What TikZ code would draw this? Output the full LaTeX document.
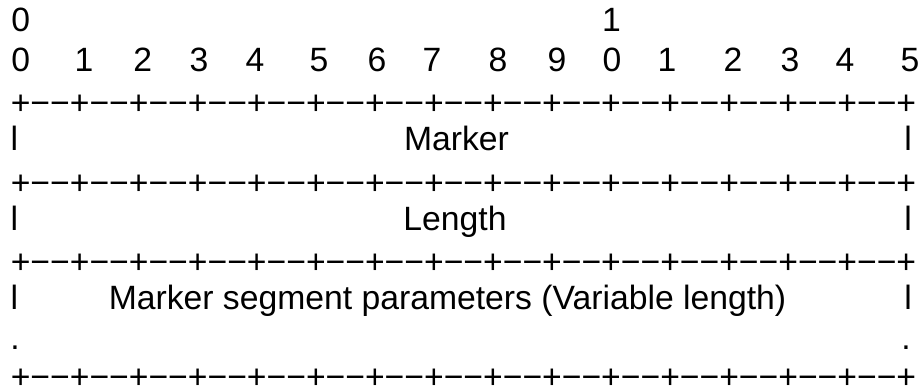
\documentclass[tikz,border=0pt]{standalone}
\usepackage{fontspec}
\setmainfont{Liberation Sans}
\newcommand\seprow{+−−+−−+−−+−−+−−+−−+−−+−−+−−+−−+−−+−−+−−+−−+−−+}
\begin{document}
\begin{tikzpicture}[x=1bp,y=-1bp,
  txt/.style={inner sep=0pt, outer sep=0pt, anchor=base, font=\fontsize{33.7bp}{40bp}\selectfont},
  seprowstyle/.style={txt, anchor=base west}]
\useasboundingbox (0,0) rectangle (922,391);
% bit numbers
\node[txt] (top0) at (20.7,31.5) {0};
\node[txt] (top1) at (611.5,31.5) {1};
\foreach \xx/\dd [count=\i] in {20.7/0,84/1,142.7/2,199/3,255/4,319/5,377/6,432/7,498/8,557/9,612/0,667/1,733/2,790/3,845/4,910/5}
  \node[txt] (d\i) at (\xx,71) {\dd};
% separator rows
\node[seprowstyle] (s1) at (10.8,114.5) {\seprow};
\node[seprowstyle] (s2) at (10.8,194.1) {\seprow};
\node[seprowstyle] (s3) at (10.8,273.7) {\seprow};
\node[seprowstyle] (s4) at (10.8,388.6) {\seprow};
% fields
\node[txt] (lb1) at (14.3,150.4) {l};
\node[txt] (f1) at (456.5,150.4) {Marker};
\node[txt] (rb1) at (908,150.4) {l};
\node[txt] (lb2) at (14.3,230) {l};
\node[txt] (f2) at (455,230) {Length};
\node[txt] (rb2) at (908,230) {l};
\node[txt] (lb3) at (14.3,309.6) {l};
\node[txt] (f3) at (447.5,309.6) {Marker segment parameters (Variable length)};
\node[txt] (rb3) at (908,309.6) {l};
\node[txt] (ld) at (15,349.4) {.};
\node[txt] (rd) at (906,349.4) {.};
\end{tikzpicture}
\end{document}
